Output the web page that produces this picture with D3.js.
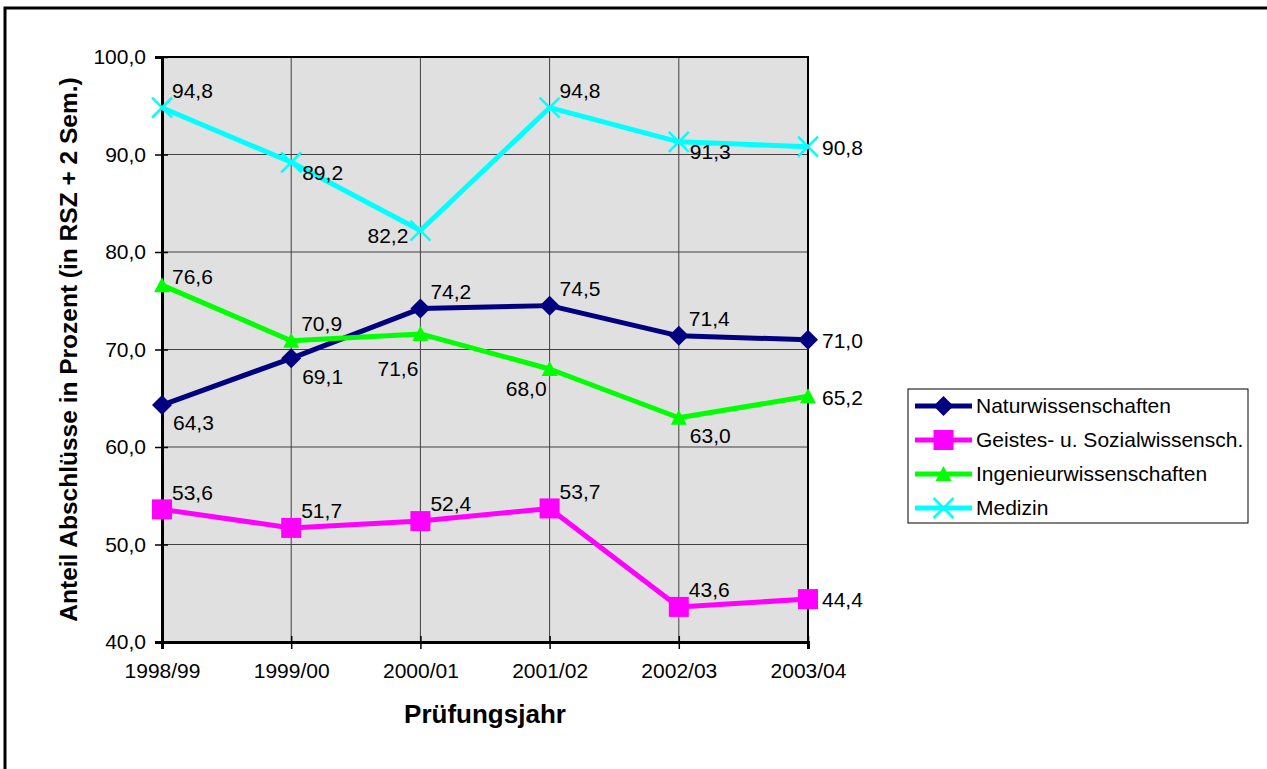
<!DOCTYPE html>
<html>
<head>
<meta charset="utf-8">
<script src="https://cdn.jsdelivr.net/npm/d3@7"></script>
<style>
  body { margin: 0; background: #fff; }
  svg text { font-family: "Liberation Sans", Arial, sans-serif; fill: #000; }
</style>
</head>
<body>
<div id="chart"></div>
<script>
// data
var years = ["1998/99", "1999/00", "2000/01", "2001/02", "2002/03", "2003/04"]
var naturwiss = [64.3, 69.1, 74.2, 74.5, 71.4, 71.0]
var geistes = [53.6, 51.7, 52.4, 53.7, 43.6, 44.4]
var ingenieur = [76.6, 70.9, 71.6, 68.0, 63.0, 65.2]
var medizin = [94.8, 89.2, 82.2, 94.8, 91.3, 90.8]
var yTicks = [40, 50, 60, 70, 80, 90, 100]

// where Excel put each data label (ar = above right, r = right, ...)
var labelPlace = {
  nat: ["br", "br", "ar", "ar", "ar", "r"],
  geo: ["ar", "ar", "ar", "ar", "ar", "r"],
  ing: ["ar2", "ar", "bl2", "bl", "br", "r"],
  med: ["ar", "rb", "l", "ar", "rb", "r"]
}
var offsets = {
  ar: [10, -17, "start"], ar2: [10, -9, "start"], r: [14, 1, "start"], rb: [11, 10, "start"],
  br: [11, 18, "start"], bl: [-3, 20, "end"], bl2: [-2, 35, "end"], l: [-12, 5, "end"]
}

var series = [
  {key: "nat", name: "Naturwissenschaften", values: naturwiss, color: "#000080", marker: "diamond"},
  {key: "geo", name: "Geistes- u. Sozialwissensch.", values: geistes, color: "#ff00ff", marker: "square"},
  {key: "ing", name: "Ingenieurwissenschaften", values: ingenieur, color: "#00ff00", marker: "triangle"},
  {key: "med", name: "Medizin", values: medizin, color: "#00ffff", marker: "cross"}
]

var width = 1267
var height = 769
var plot = {left: 162, top: 57, right: 808, bottom: 642}
var fs = "21px"

var svg = d3.select("#chart")
  .append("svg")
    .attr("width", width)
    .attr("height", height)

// outer frame (right and bottom edges fall outside the picture)
svg.append("rect")
  .attr("x", 5).attr("y", 8)
  .attr("width", 1400).attr("height", 900)
  .attr("fill", "none")
  .attr("stroke", "#000")
  .attr("stroke-width", 3)

var x = d3.scalePoint()
  .domain(years)
  .range([plot.left, plot.right])

var y = d3.scaleLinear()
  .domain([40, 100])
  .range([plot.bottom, plot.top])

// plot background
svg.append("rect")
  .attr("x", plot.left).attr("y", plot.top)
  .attr("width", plot.right - plot.left)
  .attr("height", plot.bottom - plot.top)
  .attr("fill", "#e0e0e0")

// grid lines
svg.selectAll(".hgrid")
  .data(yTicks)
  .enter()
  .append("line")
    .attr("x1", plot.left).attr("x2", plot.right)
    .attr("y1", function(d){ return y(d) }).attr("y2", function(d){ return y(d) })
    .attr("stroke", "#404040").attr("stroke-width", 1)

svg.selectAll(".vgrid")
  .data(years)
  .enter()
  .append("line")
    .attr("x1", function(d){ return x(d) }).attr("x2", function(d){ return x(d) })
    .attr("y1", plot.top).attr("y2", plot.bottom)
    .attr("stroke", "#404040").attr("stroke-width", 1)

svg.append("rect")
  .attr("x", plot.left).attr("y", plot.top)
  .attr("width", plot.right - plot.left)
  .attr("height", plot.bottom - plot.top)
  .attr("fill", "none")
  .attr("stroke", "#000")
  .attr("stroke-width", 2)

// axes
var yAxis = svg.append("g")
  .attr("transform", "translate(" + plot.left + ",0)")
  .call(d3.axisLeft(y).tickValues(yTicks).tickSize(7).tickPadding(9)
    .tickFormat(function(d){ return d3.format(".1f")(d).replace(".", ",") }))
yAxis.select(".domain").attr("stroke", "#000").attr("stroke-width", 3)
yAxis.selectAll(".tick line").attr("stroke", "#000").attr("stroke-width", 1.5).attr("x2", -7).attr("x1", 6)
yAxis.selectAll("text").style("font-size", fs).attr("font-family", null)

var xAxis = svg.append("g")
  .attr("transform", "translate(0," + plot.bottom + ")")
  .call(d3.axisBottom(x).tickSize(7).tickPadding(14))
xAxis.select(".domain").attr("stroke", "#000").attr("stroke-width", 3)
xAxis.selectAll(".tick line").attr("stroke", "#000").attr("stroke-width", 1.5).attr("y1", -6)
xAxis.selectAll("text").style("font-size", fs).attr("font-family", null)

// axis titles
svg.append("text")
  .attr("x", (plot.left + plot.right) / 2)
  .attr("y", 723)
  .attr("text-anchor", "middle")
  .style("font-size", "26px")
  .style("font-weight", "bold")
  .text("Prüfungsjahr")

svg.append("text")
  .attr("transform", "translate(77," + ((plot.top + plot.bottom) / 2) + ") rotate(-90)")
  .attr("text-anchor", "middle")
  .style("font-size", "24.5px")
  .style("font-weight", "bold")
  .text("Anteil Abschlüsse in Prozent (in RSZ + 2 Sem.)")

// marker helper
function drawMarker(g, type, color){
  if (type == "diamond") {
    g.append("path").attr("d", "M0,-10L10,0L0,10L-10,0Z").attr("fill", color)
  } else if (type == "square") {
    g.append("rect").attr("x", -10).attr("y", -10).attr("width", 20).attr("height", 20).attr("fill", color)
  } else if (type == "triangle") {
    g.append("path").attr("d", "M0,-8L8,7L-8,7Z").attr("fill", color)
  } else {
    g.append("path").attr("d", "M-10,-10L10,10M-10,10L10,-10")
      .attr("stroke", color).attr("stroke-width", 2.5).attr("fill", "none")
  }
}

var line = d3.line()
  .x(function(d, i){ return x(years[i]) })
  .y(function(d){ return y(d) })

series.forEach(function(s){
  svg.append("path")
    .datum(s.values)
    .attr("d", line)
    .attr("fill", "none")
    .attr("stroke", s.color)
    .attr("stroke-width", 5)
    .attr("stroke-linejoin", "round")

  s.values.forEach(function(v, i){
    var g = svg.append("g").attr("transform", "translate(" + x(years[i]) + "," + y(v) + ")")
    drawMarker(g, s.marker, s.color)
  })
})

// data labels on top
series.forEach(function(s){
  svg.selectAll(".lbl-" + s.key)
    .data(s.values)
    .enter()
    .append("text")
      .attr("x", function(d, i){ return x(years[i]) + offsets[labelPlace[s.key][i]][0] })
      .attr("y", function(d, i){ return y(d) + offsets[labelPlace[s.key][i]][1] })
      .attr("dy", "0.35em")
      .attr("text-anchor", function(d, i){ return offsets[labelPlace[s.key][i]][2] })
      .style("font-size", fs)
      .text(function(d){ return d3.format(".1f")(d).replace(".", ",") })
})

// legend
var legend = svg.append("g")
legend.append("rect")
  .attr("x", 908).attr("y", 389)
  .attr("width", 340).attr("height", 134)
  .attr("fill", "#fff")
  .attr("stroke", "#000")
  .attr("stroke-width", 1)

series.forEach(function(s, i){
  var ly = 406 + i * 34
  legend.append("line")
    .attr("x1", 915).attr("x2", 972)
    .attr("y1", ly).attr("y2", ly)
    .attr("stroke", s.color)
    .attr("stroke-width", 5)
  var g = legend.append("g").attr("transform", "translate(943.5," + ly + ")")
  drawMarker(g, s.marker, s.color)
  legend.append("text")
    .attr("x", 976).attr("y", ly)
    .attr("dy", "0.35em")
    .style("font-size", fs)
    .text(s.name)
})
</script>
</body>
</html>
